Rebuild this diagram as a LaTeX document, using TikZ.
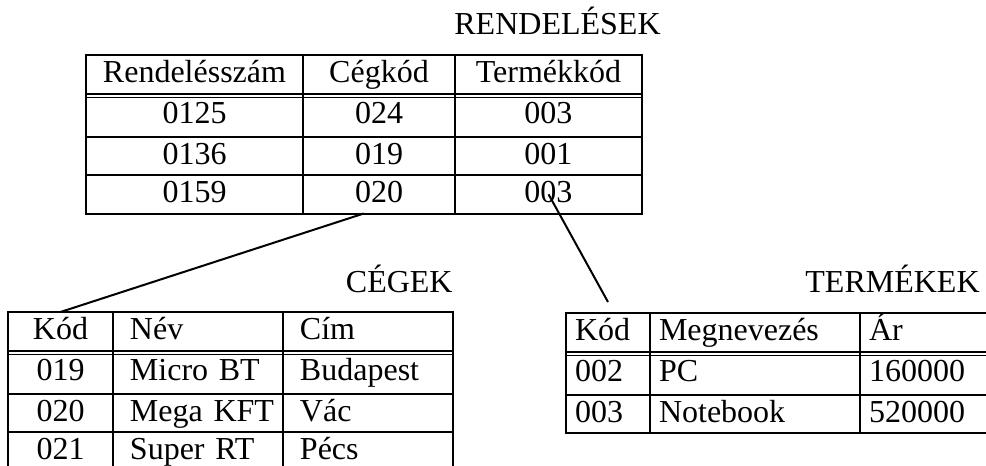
\documentclass[tikz,border=0pt]{standalone}
\usepackage{fontspec}
\setmainfont{Liberation Serif}
\usetikzlibrary{matrix,calc}

\tikzset{
  tbl/.style={matrix of nodes, inner sep=0pt, outer sep=0pt,
    row sep=-1pt, column sep=-1pt, anchor=north west,
    nodes={draw, line width=1pt, outer sep=0pt, inner ysep=0pt,
      text height=11.5pt, text depth=3pt, minimum height=19.25pt},
    row 2/.style={nodes={minimum height=21.5pt}}},
  lcell/.style 2 args={align=left, text width=#1, inner xsep=0pt,
    execute at begin node={\hspace*{#2}}},
  dbl/.style={line width=0.8pt},
  ttl/.style={anchor=base east, inner sep=0pt},
  conn/.style={line width=1pt}
}

\begin{document}
\begin{tikzpicture}[x=0.5pt, y=-0.5pt, font=\fontsize{16}{19}\selectfont]
\useasboundingbox (0,0) rectangle (986,466);

\matrix(r)[tbl,
column 1/.style={nodes={minimum width=108.5pt}},
column 2/.style={nodes={minimum width=76pt}},
column 3/.style={nodes={minimum width=93.5pt}}] at (85,54)
{
Rendelésszám & Cégkód & Termékkód \\
0125 & 024 & 003 \\
0136 & 019 & 001 \\
0159 & 020 & 003 \\};

\matrix(c)[tbl,
column 1/.style={nodes={minimum width=52.5pt}},
column 2/.style={nodes={lcell={85pt}{8.5pt}}},
column 3/.style={nodes={lcell={85pt}{8.5pt}}}] at (7,311)
{
Kód & Név & Cím \\
019 & Micro BT & Budapest \\
020 & Mega KFT & Vác \\
021 & Super RT & Pécs \\};

\matrix(t)[tbl,
column 1/.style={nodes={lcell={42pt}{4.5pt}}},
column 2/.style={nodes={lcell={105pt}{4.5pt}}},
column 3/.style={nodes={lcell={64pt}{4.5pt}}}] at (565,312)
{
Kód & Megnevezés & Ár \\
002 & PC & 160000 \\
003 & Notebook & 520000 \\};

% second rule under the header rows
\draw[dbl] ([yshift=-2pt]r-1-1.south west) -- ([yshift=-2pt]r-1-3.south east);
\draw[dbl] ([yshift=-2pt]c-1-1.south west) -- ([yshift=-2pt]c-1-3.south east);
\draw[dbl] ([yshift=-2pt]t-1-1.south west) -- ([yshift=-2pt]t-1-3.south east);

\node[ttl] (rendelesek) at (661,34) {RENDELÉSEK};
\node[ttl] (cegek) at (453,292) {CÉGEK};
\node[ttl] (termekek) at (980,292) {TERMÉKEK};

\coordinate (tk) at ([yshift=5.5pt]t-1-1.north);
\path[conn] ($(r-4-2.south west)!0.4!(r-4-2.south east)$) edge (c-1-1.north);
\path[conn] (r-4-3.center) edge (tk);
\end{tikzpicture}
\end{document}
